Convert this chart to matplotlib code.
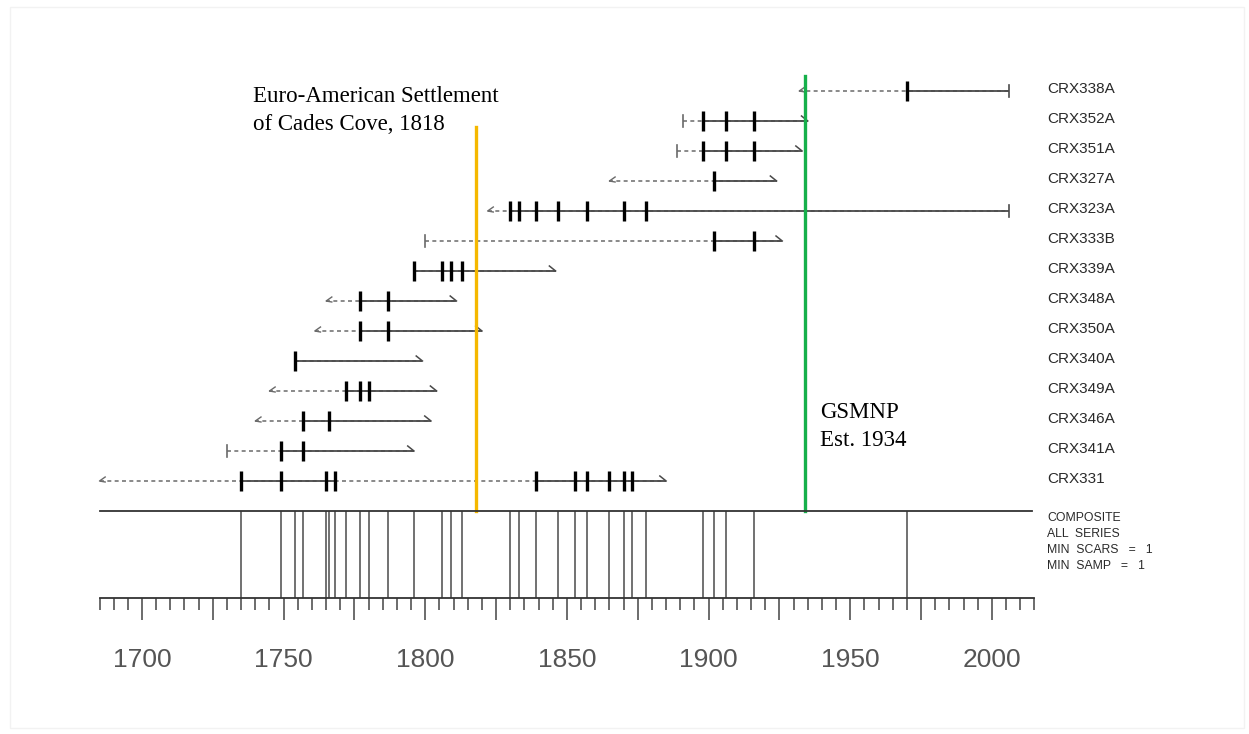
import numpy as np
import matplotlib.pyplot as plt
from matplotlib.patches import Rectangle
from matplotlib.ticker import FixedLocator, FuncFormatter

# fire-scar series, top to bottom
names = ["CRX338A", "CRX352A", "CRX351A", "CRX327A", "CRX323A", "CRX333B", "CRX339A",
         "CRX348A", "CRX350A", "CRX340A", "CRX349A", "CRX346A", "CRX341A", "CRX331"]
first_year = [1932, 1891, 1889, 1865, 1822, 1800, 1796, 1765, 1761, 1754, 1745, 1740, 1730, 1685]
last_year = [2006, 1935, 1933, 1924, 2006, 1926, 1846, 1811, 1820, 1799, 1804, 1802, 1796, 1885]
inner_end = ["inner", "pith", "pith", "inner", "inner", "pith", "scar",
             "inner", "inner", "scar", "inner", "inner", "pith", "inner"]
outer_end = ["bark", "outer", "outer", "outer", "bark", "outer", "outer",
             "outer", "outer", "outer", "outer", "outer", "outer", "outer"]
scars = [
    [1970],
    [1898, 1906, 1916],
    [1898, 1906, 1916],
    [1902],
    [1830, 1833, 1839, 1847, 1857, 1870, 1878],
    [1902, 1916],
    [1796, 1806, 1809, 1813],
    [1777, 1787],
    [1777, 1787],
    [1754],
    [1772, 1777, 1780],
    [1757, 1766],
    [1749, 1757],
    [1735, 1749, 1765, 1768, 1839, 1853, 1857, 1865, 1870, 1873],
]
recorder = [
    [(1970, 2006)],
    [(1898, 1935)],
    [(1898, 1933)],
    [(1902, 1924)],
    [(1830, 2006)],
    [(1902, 1926)],
    [(1796, 1846)],
    [(1777, 1811)],
    [(1777, 1820)],
    [(1754, 1799)],
    [(1772, 1804)],
    [(1757, 1802)],
    [(1749, 1796)],
    [(1735, 1768), (1839, 1885)],
]
settlement_year = 1818
park_year = 1934
axis_start, axis_end = 1685, 2015
composite_notes = ["COMPOSITE", "ALL  SERIES", "MIN  SCARS   =   1", "MIN  SAMP   =   1"]

W, H = 1249, 734
fig = plt.figure(figsize=(W / 100, H / 100), dpi=100)

# horizontal scale: 1700 sits at pixel 142, 2.833 px per year
ppy = 2.833
x0 = 1700 - 142 / ppy
x1 = x0 + W / ppy


def yr(px):
    return x0 + px / ppy


ax = fig.add_axes([0, 0, 1, 1])
ax.set_xlim(x0, x1)
ax.set_ylim(H, 0)
ax.axis("off")

row_y = 91 + 30 * np.arange(len(names))
line_c = "#4a4a4a"
dash_c = "#6a6a6a"

for i, name in enumerate(names):
    y = row_y[i]
    a, b = first_year[i], last_year[i]
    ax.plot([a, b], [y, y], color=dash_c, lw=1.1, ls=(0, (2.6, 2.2)))
    for s, e in recorder[i]:
        ax.plot([s, e], [y, y], color=line_c, lw=1.3, solid_capstyle="butt")
    if inner_end[i] == "pith":
        ax.plot([a, a], [y - 6, y + 6], color=dash_c, lw=1.2)
    elif inner_end[i] == "inner":
        ax.plot([a + 2.0, a, a + 2.0], [y - 4, y, y + 1], color=dash_c, lw=1.0)
    if outer_end[i] == "bark":
        ax.plot([b, b], [y - 6, y + 6], color=line_c, lw=1.2)
    else:
        ax.plot([b - 2.2, b], [y - 5, y], color=line_c, lw=1.1)
    ax.vlines(scars[i], y - 10, y + 10, color="black", lw=2.4, zorder=4)
    ax.text(yr(1047), y - 2, name, ha="left", va="center", fontsize=11,
            family="Liberation Sans", color="#2a2a2a")

# reference lines
ax.plot([settlement_year, settlement_year], [127, 511], color="#F5B800", lw=2.4, zorder=5)
ax.plot([park_year, park_year], [76, 511], color="#16B04B", lw=2.4, zorder=5)

serif = dict(ha="left", va="center", fontsize=16.5, family="Liberation Serif", color="black")
ax.text(yr(253), 97, "Euro-American Settlement", **serif)
ax.text(yr(253), 125, "of Cades Cove, 1818", **serif)
ax.text(yr(820), 413, "GSMNP", **serif)
ax.text(yr(820), 440, "Est. 1934", **serif)

for k, note in enumerate(composite_notes):
    ax.text(yr(1047), 518 + 16 * k, note, ha="left", va="center", fontsize=8.8,
            family="Liberation Sans", color="#2a2a2a")

# composite panel and time axis
axc = fig.add_axes([0, 1 - 598 / H, 1, 87 / H])
axc.set_xlim(x0, x1)
axc.set_ylim(0, 1)
axc.patch.set_alpha(0)
composite = sorted(set(y for s in scars for y in s))
axc.vlines(composite, 0, 1, color=line_c, lw=1.1)
for side in ["left", "right"]:
    axc.spines[side].set_visible(False)
axc.spines["top"].set_bounds(axis_start, 2014)
axc.spines["bottom"].set_bounds(axis_start, axis_end)
for side in ["top", "bottom"]:
    axc.spines[side].set_color("#333333")
    axc.spines[side].set_linewidth(1.3)
axc.yaxis.set_visible(False)
axc.xaxis.set_major_locator(FixedLocator(np.arange(1700, 2001, 25)))
axc.xaxis.set_minor_locator(FixedLocator(np.arange(axis_start, axis_end + 1, 5)))
axc.xaxis.set_major_formatter(FuncFormatter(lambda v, p: f"{int(v)}" if v % 50 == 0 else ""))
axc.tick_params(which="major", length=16, width=1.1, color="#444444", labelsize=19,
                labelcolor="#555555", pad=20)
axc.tick_params(which="minor", length=8.5, width=1.1, color="#444444")
for lab in axc.get_xticklabels():
    lab.set_family("Liberation Sans")

fig.patches.append(Rectangle((10 / W, 1 - 728 / H), 1234 / W, 721 / H, transform=fig.transFigure,
                             fill=False, edgecolor="#f2f2f2", lw=1))

fig.savefig("out.png", dpi=100)
